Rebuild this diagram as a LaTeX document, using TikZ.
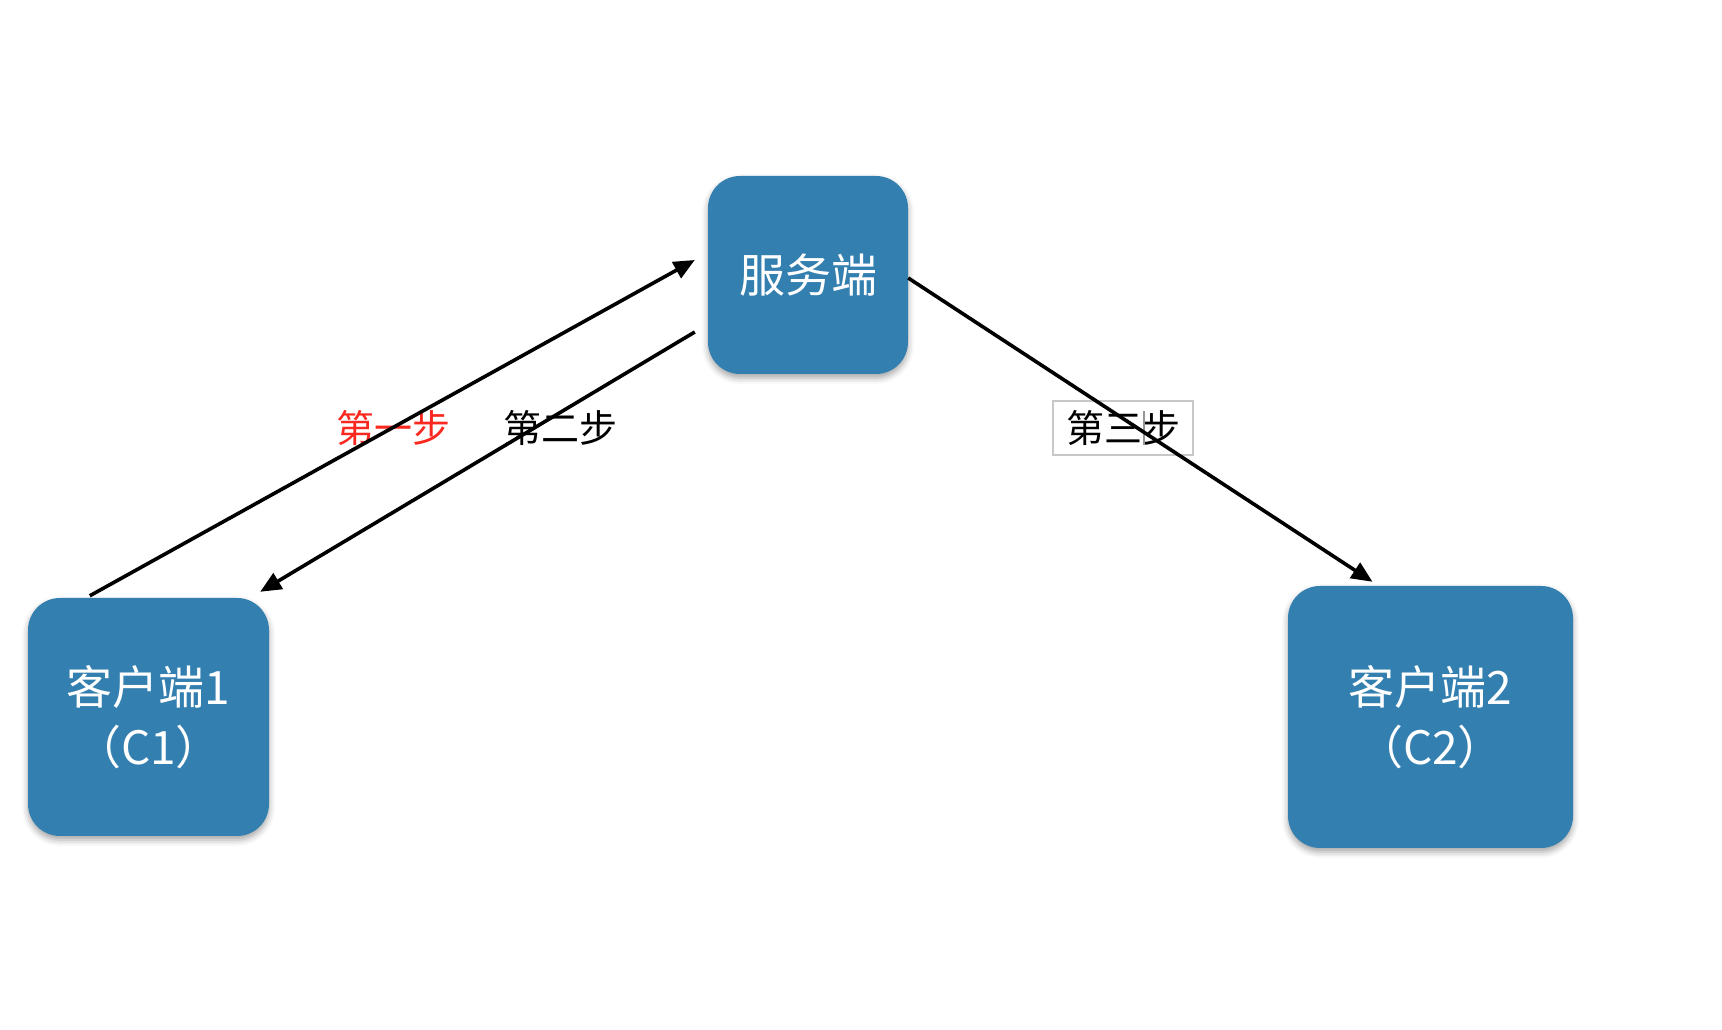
\documentclass[tikz,border=0pt]{standalone}
\usepackage{fontspec}
\setmainfont{Noto Sans CJK SC}
\usetikzlibrary{arrows.meta,shadows.blur}
\definecolor{boxblue}{RGB}{51,127,176}
\definecolor{labred}{RGB}{250,40,30}
\definecolor{cursorgray}{RGB}{150,150,150}
\definecolor{framegray}{RGB}{200,200,200}
\tikzset{
  bluebox/.style={fill=boxblue, rounded corners=32pt, text=white, align=center,
    font=\fontsize{46}{60}\selectfont, inner sep=0pt,
    blur shadow={shadow xshift=0pt, shadow yshift=-4pt, shadow blur radius=6pt, shadow opacity=35}},
  flow/.style={line width=3.6pt, -{Triangle[length=21pt,width=18pt]}},
  steplabel/.style={font=\fontsize{38}{44}\selectfont, inner sep=0pt}
}
\begin{document}
\begin{tikzpicture}[x=1pt,y=1pt]
\useasboundingbox (0,0) rectangle (1722,1030);
\node[bluebox, minimum width=200pt, minimum height=198pt] (srv) at (808,755) {服务端};
\node[bluebox, minimum width=241pt, minimum height=238pt] (c1) at (148.5,313) {客户端1\\（C1）};
\node[bluebox, minimum width=285pt, minimum height=262pt] (c2) at (1430.5,313) {客户端2\\（C2）};
\node[steplabel, text=labred] (s1) at (393,602) {第一步};
\node[steplabel] (s2) at (560,602) {第二步};
\node[steplabel, draw=framegray, line width=1.5pt, minimum width=140pt, minimum height=54pt] (s3) at (1123,602) {第三步};
\draw[cursorgray, line width=1.8pt] ([xshift=21pt,yshift=-17pt]s3.center) -- ([xshift=21pt,yshift=17pt]s3.center);
\draw[flow] ([xshift=62pt,yshift=2pt]c1.north west) -- ([xshift=-13pt,yshift=15pt]srv.west);
\draw[flow] ([xshift=-13pt,yshift=-57pt]srv.west) -- ([xshift=-9pt,yshift=6pt]c1.north east);
\draw[flow] ([yshift=-3pt]srv.east) -- ([xshift=-58pt,yshift=4pt]c2.north);
\end{tikzpicture}
\end{document}
